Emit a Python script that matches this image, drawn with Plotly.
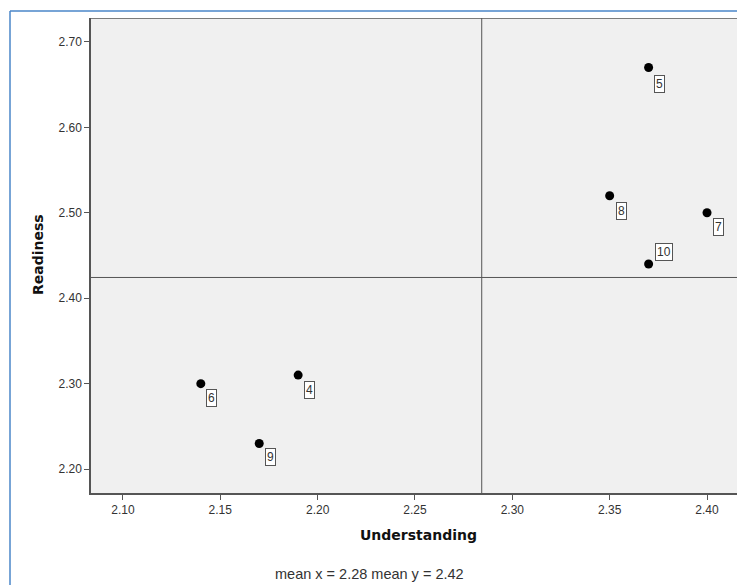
import plotly.graph_objects as go

ids = ["5", "8", "7", "10", "6", "4", "9"]
understanding = [2.37, 2.35, 2.40, 2.37, 2.14, 2.19, 2.17]
readiness = [2.67, 2.52, 2.50, 2.44, 2.30, 2.31, 2.23]
x_ticks = [2.10, 2.15, 2.20, 2.25, 2.30, 2.35, 2.40]
y_ticks = [2.20, 2.30, 2.40, 2.50, 2.60, 2.70]
label_shift = {"5": (11, -16), "8": (12, -15), "7": (11, -14), "10": (15, 12),
               "6": (11, -14), "4": (11, -15), "9": (11, -14)}

mean_x = sum(understanding) / len(understanding)
mean_y = sum(readiness) / len(readiness)

XR = [2.0836, 2.4154]
YR = [2.172, 2.728]
W, H = 737, 585
L, T, B = 91, 18, 92
PW, PH = W - L, H - T - B

def px(p):
    return (p - L) / PW

def py(p):
    return (H - B - p) / PH

fig = go.Figure()
fig.add_trace(go.Scatter(x=understanding, y=readiness, mode="markers",
                         marker=dict(color="black", size=9), hoverinfo="x+y"))

for i, xv, yv in zip(ids, understanding, readiness):
    dx, dy = label_shift[i]
    fig.add_annotation(x=xv, y=yv, text=i, showarrow=False, xshift=dx, yshift=dy,
                       bgcolor="white", bordercolor="#555", borderwidth=1, borderpad=1,
                       font=dict(family="Liberation Sans, Arial", size=12, color="#333"))

frame = dict(color="#555", width=1.5)
fig.add_shape(type="line", xref="x", yref="y", x0=mean_x, x1=mean_x, y0=YR[0], y1=YR[1],
              line=dict(color="#555", width=1))
fig.add_shape(type="line", xref="x", yref="y", x0=XR[0], x1=XR[1], y0=mean_y, y1=mean_y,
              line=dict(color="#555", width=1))
fig.add_shape(type="line", xref="x", yref="y", x0=XR[0], x1=XR[1], y0=YR[1], y1=YR[1], line=frame)
# blue outer frame
fig.add_shape(type="line", xref="paper", yref="paper", x0=px(10), x1=1.0, y0=py(11), y1=py(11),
              line=dict(color="#4a86c8", width=1.5))
fig.add_shape(type="line", xref="paper", yref="paper", x0=px(10), x1=px(10), y0=py(H), y1=py(11),
              line=dict(color="#4a86c8", width=1.5))

fig.update_layout(
    width=W, height=H,
    margin=dict(l=L, r=0, t=T, b=B),
    paper_bgcolor="white", plot_bgcolor="#f0f0f0",
    showlegend=False,
    font=dict(family="Liberation Sans, Arial", size=12, color="#333"),
    xaxis=dict(range=XR, tickvals=x_ticks, ticktext=[f"{v:.2f}" for v in x_ticks],
               showgrid=False, zeroline=False, showline=True, linecolor="#555", linewidth=1.5,
               ticks="outside", ticklen=5, tickcolor="#555"),
    yaxis=dict(range=YR, tickvals=y_ticks, ticktext=[f"{v:.2f}" for v in y_ticks],
               showgrid=False, zeroline=False, showline=True, linecolor="#555", linewidth=1.5,
               ticks="outside", ticklen=5, tickcolor="#555"),
)
title_font = dict(family="DejaVu Sans", size=14, color="#111")
fig.add_annotation(xref="paper", yref="paper", x=px(418), y=py(535), yanchor="middle",
                   text="<b>Understanding</b>", showarrow=False, font=title_font)
fig.add_annotation(xref="paper", yref="paper", x=px(38), y=py(255), xanchor="center", yanchor="middle",
                   textangle=-90, text="<b>Readiness</b>", showarrow=False, font=title_font)
fig.add_annotation(xref="paper", yref="paper", x=px(369), y=py(574), yanchor="middle",
                   text=f"mean x = {mean_x:.2f} mean y = {mean_y:.2f}", showarrow=False,
                   font=dict(family="Liberation Sans, Arial", size=14.5, color="#333"))

fig.write_html("out.html", config={"displayModeBar": False},
               post_script="document.body.style.margin='0';document.body.style.overflow='hidden';")
